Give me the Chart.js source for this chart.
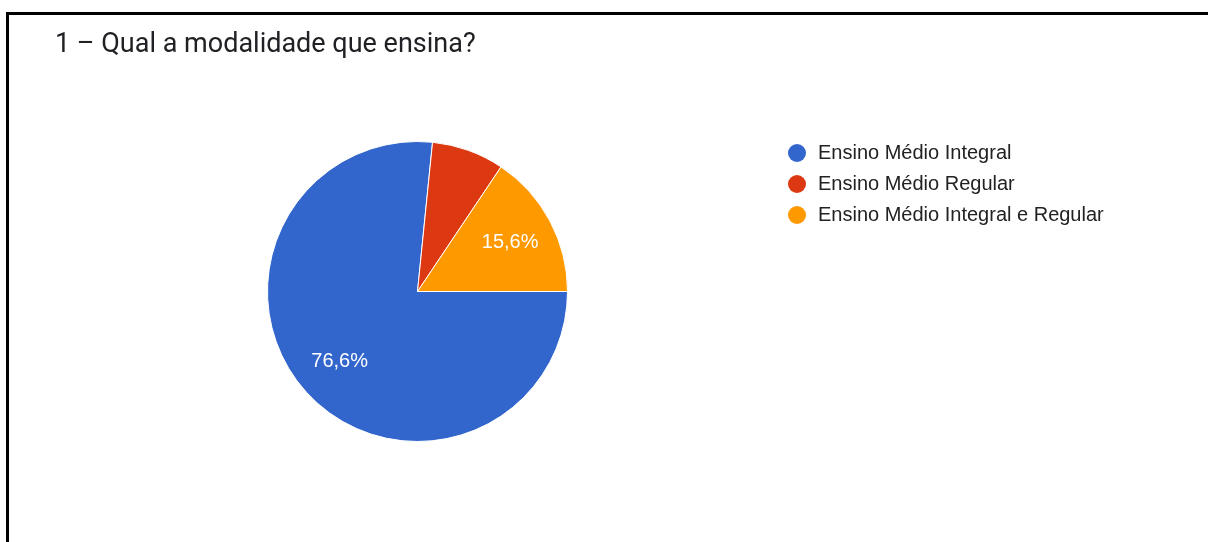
<!DOCTYPE html>
<html>
<head>
<meta charset="utf-8">
<script src="https://cdn.jsdelivr.net/npm/chart.js@4.4.1/dist/chart.umd.min.js"></script>
<style>
  html, body { margin: 0; padding: 0; background: #fff; }
  #wrap { position: relative; width: 1208px; height: 542px; overflow: hidden; }
  #frame { position: absolute; left: 6px; top: 12px; right: 0; bottom: -5px; border-top: 3px solid #000; border-left: 3px solid #000; }
  #title { position: absolute; left: 55px; top: 27px; font: 27px Roboto, sans-serif; color: #202124; white-space: nowrap; }
  #legend { position: absolute; left: 788px; top: 137px; font: 20px "Liberation Sans", Arial, sans-serif; color: #222; }
  #legend div { height: 31px; display: flex; align-items: center; white-space: nowrap; }
  #legend span.dot { width: 18px; height: 18px; border-radius: 50%; margin-right: 12px; display: inline-block; }
  canvas { position: absolute; left: 0; top: 0; }
</style>
</head>
<body>
<div id="wrap">
  <canvas id="pie" width="1208" height="542"></canvas>
  <div id="frame"></div>
  <div id="title">1 – Qual a modalidade que ensina?</div>
  <div id="legend"></div>
</div>
<script>
// Respostas: modalidade de ensino
const labels = ['Ensino Médio Integral', 'Ensino Médio Regular', 'Ensino Médio Integral e Regular'];
const values = [76.6, 7.8, 15.6];
const colors = ['#3366cc', '#dc3912', '#ff9900'];

// legenda em HTML
const legendEl = document.getElementById('legend');
labels.forEach((name, i) => {
  const row = document.createElement('div');
  row.innerHTML = `<span class="dot" style="background:${colors[i]}"></span>${name}`;
  legendEl.appendChild(row);
});

// rótulos de porcentagem dentro das fatias (fatias pequenas ficam sem rótulo)
const sliceLabels = {
  id: 'sliceLabels',
  afterDatasetsDraw(chart) {
    const { ctx } = chart;
    const meta = chart.getDatasetMeta(0);
    const data = chart.data.datasets[0].data;
    ctx.save();
    ctx.font = '20px "Liberation Sans", Arial, sans-serif';
    ctx.fillStyle = '#ffffff';
    ctx.textAlign = 'center';
    ctx.textBaseline = 'middle';
    meta.data.forEach((arc, i) => {
      if (data[i] < 10) return;
      const { x, y, startAngle, endAngle, outerRadius } = arc.getProps(['x', 'y', 'startAngle', 'endAngle', 'outerRadius'], true);
      const mid = (startAngle + endAngle) / 2;
      const r = outerRadius * 0.7;
      const text = data[i].toFixed(1).replace('.', ',') + '%';
      ctx.fillText(text, x + Math.cos(mid) * r, y + Math.sin(mid) * r);
    });
    ctx.restore();
  }
};

new Chart(document.getElementById('pie'), {
  type: 'pie',
  data: {
    labels,
    datasets: [{
      data: values,
      backgroundColor: colors,
      borderColor: '#ffffff',
      borderWidth: 1,
    }]
  },
  options: {
    responsive: false,
    animation: false,
    rotation: 90,
    layout: { padding: { left: 267, right: 640, top: 141, bottom: 100 } },
    plugins: {
      legend: { display: false },
      title: { display: false },
      tooltip: { enabled: false },
    }
  },
  plugins: [sliceLabels],
});
</script>
</body>
</html>
